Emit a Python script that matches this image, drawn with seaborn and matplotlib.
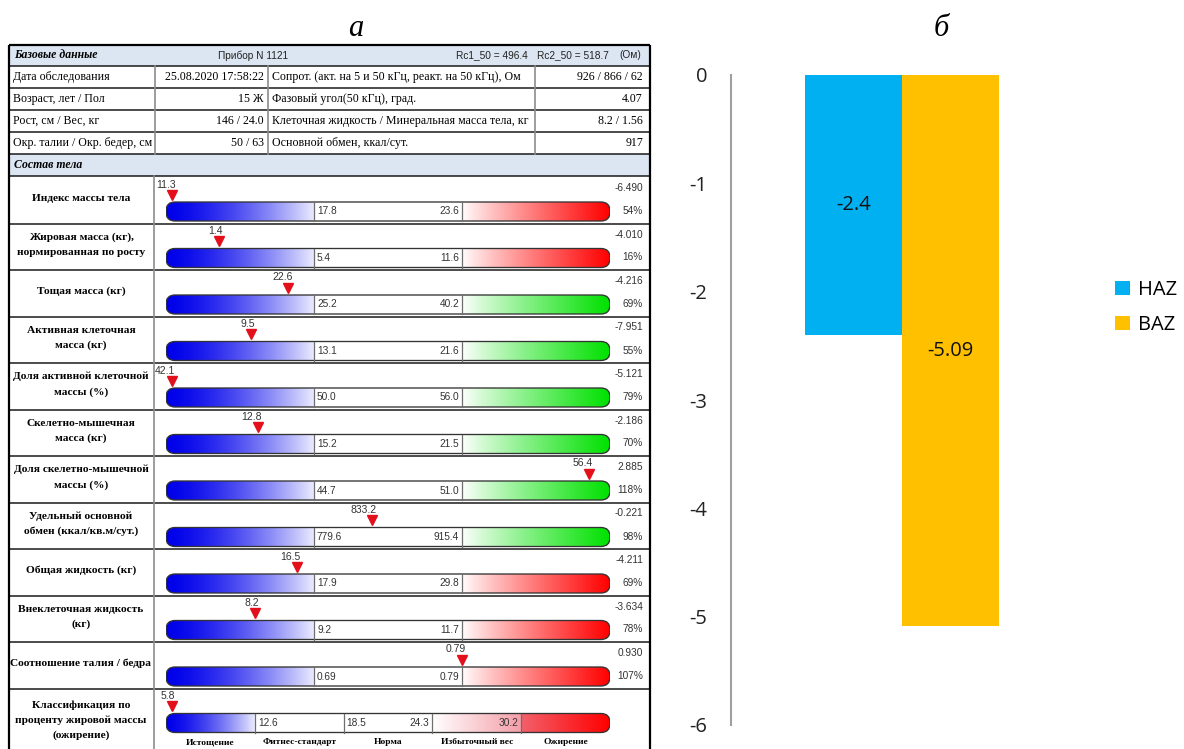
import numpy as np
import pandas as pd
import matplotlib
matplotlib.use("Agg")
import matplotlib.pyplot as plt
import matplotlib.patches as mpatches
import seaborn as sns

plt.rcParams["axes.unicode_minus"] = False

# ---------------- data ----------------
device_text = "Прибор N 1121"
rc1_text = "Rc1_50 = 496.4"
rc2_text = "Rc2_50 = 518.7"
base_left_labels = ["Дата обследования", "Возраст, лет / Пол", "Рост, см / Вес, кг",
                    "Окр. талии / Окр. бедер, см"]
base_left_values = ["25.08.2020 17:58:22", "15 Ж", "146 / 24.0", "50 / 63"]
base_right_labels = ["Сопрот. (акт. на 5 и 50 кГц, реакт. на 50 кГц), Ом",
                     "Фазовый угол(50 кГц), град.",
                     "Клеточная жидкость / Минеральная масса тела, кг",
                     "Основной обмен, ккал/сут."]
base_right_values = ["926 / 866 / 62", "4.07", "8.2 / 1.56", "917"]

comp_labels = ["Индекс массы тела",
               "Жировая масса (кг),\nнормированная по росту",
               "Тощая масса (кг)",
               "Активная клеточная\nмасса (кг)",
               "Доля активной клеточной\nмассы (%)",
               "Скелетно-мышечная\nмасса (кг)",
               "Доля скелетно-мышечной\nмассы (%)",
               "Удельный основной\nобмен (ккал/кв.м/сут.)",
               "Общая жидкость (кг)",
               "Внеклеточная жидкость\n(кг)",
               "Соотношение талия / бедра"]
comp_values = [11.3, 1.4, 22.6, 9.5, 42.1, 12.8, 56.4, 833.2, 16.5, 8.2, 0.79]
norm_low = [17.8, 5.4, 25.2, 13.1, 50.0, 15.2, 44.7, 779.6, 17.9, 9.2, 0.69]
norm_high = [23.6, 11.6, 40.2, 21.6, 56.0, 21.5, 51.0, 915.4, 29.8, 11.7, 0.79]
decimals = [1, 1, 1, 1, 1, 1, 1, 1, 1, 1, 2]
excess_kind = ["red", "red", "green", "green", "green", "green", "green", "green",
               "red", "red", "red"]
z_scores = [-6.490, -4.010, -4.216, -7.951, -5.121, -2.186, 2.885, -0.221,
            -4.211, -3.634, 0.930]
pct_of_norm = [54, 16, 69, 55, 79, 70, 118, 98, 69, 78, 107]

fat_label = "Классификация по\nпроценту жировой массы\n(ожирение)"
fat_value = 5.8
fat_bounds = [12.6, 18.5, 24.3, 30.2]
fat_classes = ["Истощение", "Фитнес-стандарт", "Норма", "Избыточный вес", "Ожирение"]

z_names = ["HAZ", "BAZ"]
z_values = [-2.4, -5.09]
z_colors = ["#00B0F0", "#FFC000"]

# ---------------- layout ----------------
W, H = 1184, 749
SERIF = "Liberation Serif"
SANS = "Liberation Sans"
CHART_FONT = "Open Sans"
HEAD_BG = "#DCE6F2"
GRID_DARK = "#1a1a1a"
GRID_GREY = "#8c8c8c"

fig = plt.figure(figsize=(W / 100, H / 100), dpi=100)
fig.patch.set_facecolor("white")


def frac(x, y, w, h):
    return [x / W, 1 - (y + h) / H, w / W, h / H]


canvas = fig.add_axes([0, 0, 1, 1])
canvas.set_xlim(0, W)
canvas.set_ylim(H, 0)
canvas.axis("off")

# panel letters
canvas.text(356, 28, "а", fontfamily=SERIF, fontstyle="italic", fontsize=22,
            ha="center", va="center")
canvas.text(941, 28, "б", fontfamily=SERIF, fontstyle="italic", fontsize=22,
            ha="center", va="center")

# ---------------- report table (panel a) ----------------
TL, TR = 9, 650
TOP = 45
base_rows = [66, 88, 110, 132, 154]
comp_head = (154, 176)
row_h = 46.5
row_tops = 177 + row_h * np.arange(len(comp_labels) + 1)

canvas.add_patch(mpatches.Rectangle((TL, TOP), TR - TL, base_rows[0] - TOP,
                                    facecolor=HEAD_BG, edgecolor="none"))
canvas.add_patch(mpatches.Rectangle((TL, comp_head[0]), TR - TL,
                                    comp_head[1] - comp_head[0],
                                    facecolor=HEAD_BG, edgecolor="none"))

for y in base_rows + [comp_head[1]]:
    canvas.plot([TL, TR], [y, y], color=GRID_DARK, lw=1.1, solid_capstyle="butt")
for y in row_tops[1:]:
    canvas.plot([TL, TR], [y, y], color=GRID_DARK, lw=1.1, solid_capstyle="butt")
for x in [155, 268, 535]:
    canvas.plot([x, x], [base_rows[0], base_rows[-1]], color=GRID_GREY, lw=1.2)
canvas.plot([154, 154], [comp_head[1], H], color=GRID_GREY, lw=1.2)
canvas.plot([TL, TR], [TOP, TOP], color="black", lw=1.6, solid_capstyle="butt")
canvas.plot([TL, TL], [TOP, H], color="black", lw=1.6, solid_capstyle="butt")
canvas.plot([TR, TR], [TOP, H], color="black", lw=1.6, solid_capstyle="butt")

head_y = (TOP + base_rows[0]) / 2
canvas.text(14, head_y, "Базовые данные", fontfamily=SERIF, fontweight="bold",
            fontstyle="italic", fontsize=8.5, va="center")
canvas.text(253, head_y, device_text, fontfamily=SANS, fontsize=7.3,
            ha="center", va="center", color="#222222")
canvas.text(456, head_y, rc1_text, fontfamily=SANS, fontsize=7.3, va="center",
            color="#222222")
canvas.text(537, head_y, rc2_text, fontfamily=SANS, fontsize=7.3, va="center",
            color="#222222")
canvas.text(641, head_y, "(Ом)", fontfamily=SANS, fontsize=7.3, ha="right",
            va="center", color="#222222")

for i in range(len(base_left_labels)):
    yc = (base_rows[i] + base_rows[i + 1]) / 2
    canvas.text(13, yc, base_left_labels[i], fontfamily=SERIF, fontsize=8.6, va="center")
    canvas.text(264, yc, base_left_values[i], fontfamily=SERIF, fontsize=8.6,
                ha="right", va="center")
    canvas.text(272, yc, base_right_labels[i], fontfamily=SERIF, fontsize=8.6,
                va="center")
    canvas.text(643, yc, base_right_values[i], fontfamily=SERIF, fontsize=8.6,
                ha="right", va="center")

canvas.text(14, sum(comp_head) / 2, "Состав тела", fontfamily=SERIF,
            fontweight="bold", fontstyle="italic", fontsize=8.5, va="center")

# gauge geometry (pixels)
G_X0, G_X1 = 166, 610
BAR_TOP, BAR_BOT = 25, 44
BLUE = (0.0, 0.0, 0.92)
WHITE = (1.0, 1.0, 1.0)
LOW_END = (0.92, 0.92, 1.0)
RED = (1.0, 0.0, 0.0)
GREEN = (0.0, 0.88, 0.0)
MARK = "#E3101C"


def gradient_strip(xs, segments):
    img = np.ones((len(xs), 3))
    for xa, xb, ca, cb, power in segments:
        m = (xs >= xa) & (xs <= xb)
        t = (((xs[m] - xa) / (xb - xa)) ** power)[:, None]
        img[m] = (1 - t) * np.array(ca) + t * np.array(cb)
    return img[None, :, :]


def gauge_axes(top, x0, x1):
    ax = fig.add_axes(frac(G_X0, top, G_X1 - G_X0, row_h))
    ax.set_xlim(x0, x1)
    ax.set_ylim(row_h, 0)
    ax.axis("off")
    ax.patch.set_visible(False)
    aspect = (G_X1 - G_X0) / (x1 - x0)
    shape = mpatches.FancyBboxPatch(
        (x0, BAR_TOP), x1 - x0, BAR_BOT - BAR_TOP,
        boxstyle=f"round,pad=0,rounding_size={9.0 / aspect}",
        mutation_aspect=aspect, facecolor="none", edgecolor="#333333",
        lw=0.95, zorder=3)
    ax.add_patch(shape)
    return ax, shape


def paint(ax, shape, x0, x1, segments):
    xs = np.linspace(x0, x1, 800)
    im = ax.imshow(gradient_strip(xs, segments), extent=(x0, x1, BAR_BOT, BAR_TOP),
                   aspect="auto", interpolation="bilinear", zorder=1)
    im.set_clip_path(shape)
    ax.set_xlim(x0, x1)
    ax.set_ylim(row_h, 0)


def marker(ax, pos, text):
    ax.plot([pos], [17.5], marker="v", ms=7.5, color=MARK, mec=MARK,
            clip_on=False, zorder=5)
    ax.annotate(text, xy=(pos, 12.5), xytext=(4, 0), textcoords="offset pixels",
                ha="right", va="bottom", fontfamily=SANS, fontsize=7.5,
                color="#333333", annotation_clip=False)


for i, lab in enumerate(comp_labels):
    top = row_tops[i]
    canvas.text(81, top + row_h / 2 - 2, lab, fontfamily=SERIF, fontweight="bold",
                fontsize=8.2, ha="center", va="center", linespacing=1.75)
    ax, shape = gauge_axes(top, -1, 2)
    hi_col = RED if excess_kind[i] == "red" else GREEN
    paint(ax, shape, -1, 2, [(-1, 0, BLUE, LOW_END, 1.5), (0, 1, WHITE, WHITE, 1.0),
                             (1, 2, WHITE, hi_col, 0.9)])
    for xd in (0, 1):
        ax.plot([xd, xd], [BAR_TOP, BAR_BOT], color="#6e6e6e", lw=0.9, zorder=4)
    d = decimals[i]
    ax.annotate(f"{norm_low[i]:.{d}f}", xy=(0, (BAR_TOP + BAR_BOT) / 2),
                xytext=(3, 0), textcoords="offset pixels", ha="left", va="center",
                fontfamily=SANS, fontsize=7.3, color="#333333")
    ax.annotate(f"{norm_high[i]:.{d}f}", xy=(1, (BAR_TOP + BAR_BOT) / 2),
                xytext=(-3, 0), textcoords="offset pixels", ha="right", va="center",
                fontfamily=SANS, fontsize=7.3, color="#333333")
    rel = (comp_values[i] - norm_low[i]) / (norm_high[i] - norm_low[i])
    edge = 5.5 / 148
    marker(ax, float(np.clip(rel, -1 + edge, 2 - edge)), f"{comp_values[i]:.{d}f}")
    canvas.text(643, top + 11, f"{z_scores[i]:.3f}", fontfamily=SANS, fontsize=7.3,
                ha="right", va="center", color="#333333")
    canvas.text(643, top + 34, f"{pct_of_norm[i]}%", fontfamily=SANS, fontsize=7.3,
                ha="right", va="center", color="#333333")

# body fat classification row
top = row_tops[-1]
canvas.text(81, top + 32, fat_label, fontfamily=SERIF, fontweight="bold",
            fontsize=8.2, ha="center", va="center", linespacing=1.75)
ax, shape = gauge_axes(top, 0, 5)
paint(ax, shape, 0, 5, [(0, 1, BLUE, LOW_END, 1.5), (1, 3, WHITE, WHITE, 1.0),
                        (3, 4, WHITE, (0.96, 0.62, 0.66), 1.0),
                        (4, 5, (0.95, 0.38, 0.42), RED, 1.0)])
for k, b in enumerate(fat_bounds):
    xd = k + 1
    ax.plot([xd, xd], [BAR_TOP, BAR_BOT], color="#6e6e6e", lw=0.9, zorder=4)
    left_side = k < 2
    ax.annotate(f"{b:.1f}", xy=(xd, (BAR_TOP + BAR_BOT) / 2),
                xytext=(3 if left_side else -3, 0), textcoords="offset pixels",
                ha="left" if left_side else "right", va="center",
                fontfamily=SANS, fontsize=7.3, color="#333333")
for k, name in enumerate(fat_classes):
    ax.text(k + 0.5, 54, name, fontfamily=SERIF, fontweight="bold", fontsize=6.8,
            ha="center", va="center", clip_on=False)
step = fat_bounds[1] - fat_bounds[0]
fat_pos = np.interp(fat_value, [fat_bounds[0] - step] + fat_bounds + [fat_bounds[-1] + step],
                    [0, 1, 2, 3, 4, 5])
marker(ax, float(np.clip(fat_pos, 5.5 / 88.8, 5 - 5.5 / 88.8)), f"{fat_value:.1f}")

# ---------------- z-score bars (panel б) ----------------
ax2 = fig.add_axes(frac(731, 75, 342, 650))
df_z = pd.DataFrame({"group": ["z"] * len(z_names), "index": z_names, "value": z_values})
sns.barplot(data=df_z, x="group", y="value", hue="index", hue_order=z_names,
            palette=z_colors, width=0.57, saturation=1, errorbar=None,
            linewidth=0, ax=ax2)
ax2.set_xlim(-0.5, 0.5)
ax2.set_ylim(-6, 0)
ax2.set_yticks(np.arange(0, -7, -1))
ax2.set_facecolor("none")
for s in ("top", "right", "bottom"):
    ax2.spines[s].set_visible(False)
ax2.spines["left"].set_color("#a0a0a0")
ax2.spines["left"].set_linewidth(1.5)
ax2.tick_params(axis="y", length=0, pad=17, labelsize=14.5, labelcolor="#222222")
ax2.tick_params(axis="x", bottom=False, labelbottom=False)
for lab in ax2.get_yticklabels():
    lab.set_fontfamily(CHART_FONT)
ax2.set_xlabel("")
ax2.set_ylabel("")
for cont, v in zip(ax2.containers, z_values):
    ax2.bar_label(cont, labels=[f"{v:g}"], label_type="center", fontsize=14.5,
                  fontfamily=CHART_FONT, color="#111111")
if ax2.get_legend() is not None:
    ax2.get_legend().remove()
handles = [mpatches.Patch(facecolor=c, edgecolor="none") for c in z_colors]
leg = fig.legend(handles, z_names, loc="upper left",
                 bbox_to_anchor=(1115 / W, 1 - 280 / H), frameon=False,
                 handlelength=0.75, handleheight=0.75, handletextpad=0.4,
                 labelspacing=0.75, borderpad=0, borderaxespad=0,
                 prop={"family": CHART_FONT, "size": 14.5})

fig.savefig("out.png", dpi=100, facecolor="white")
